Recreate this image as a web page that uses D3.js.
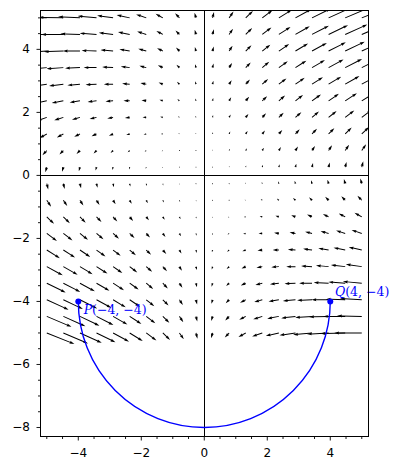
<!DOCTYPE html>
<html><head><meta charset="utf-8">
<script src="https://cdn.jsdelivr.net/npm/d3@7"></script>
<style>body{margin:0;background:#fff}svg{display:block}</style>
</head><body>
<svg id="c" width="402" height="470"></svg>
<script>
// ---- data ----
const gridX = [-5,-4.474,-3.947,-3.421,-2.895,-2.368,-1.842,-1.316,-0.789,-0.263,0.263,0.789,1.316,1.842,2.368,2.895,3.421,3.947,4.474,5];
const gridY = [-5,-4.474,-3.947,-3.421,-2.895,-2.368,-1.842,-1.316,-0.789,-0.263,0.263,0.789,1.316,1.842,2.368,2.895,3.421,3.947,4.474,5];
// fieldU[j][i], fieldV[j][i] : vector at (gridX[i], gridY[j])
const fieldU = [
[25,22.37,19.74,17.11,14.47,11.84,9.21,6.58,3.95,1.32,-1.32,-3.95,-6.58,-9.21,-11.84,-14.47,-17.11,-19.74,-22.37,-25],
[22.37,20.01,17.66,15.3,12.95,10.6,8.24,5.89,3.53,1.18,-1.18,-3.53,-5.89,-8.24,-10.6,-12.95,-15.3,-17.66,-20.01,-22.37],
[19.74,17.66,15.58,13.5,11.43,9.35,7.27,5.19,3.12,1.04,-1.04,-3.12,-5.19,-7.27,-9.35,-11.43,-13.5,-15.58,-17.66,-19.74],
[17.11,15.3,13.5,11.7,9.9,8.1,6.3,4.5,2.7,0.9,-0.9,-2.7,-4.5,-6.3,-8.1,-9.9,-11.7,-13.5,-15.3,-17.11],
[14.47,12.95,11.43,9.9,8.38,6.86,5.33,3.81,2.29,0.76,-0.76,-2.29,-3.81,-5.33,-6.86,-8.38,-9.9,-11.43,-12.95,-14.47],
[11.84,10.6,9.35,8.1,6.86,5.61,4.36,3.12,1.87,0.62,-0.62,-1.87,-3.12,-4.36,-5.61,-6.86,-8.1,-9.35,-10.6,-11.84],
[9.21,8.24,7.27,6.3,5.33,4.36,3.39,2.42,1.45,0.48,-0.48,-1.45,-2.42,-3.39,-4.36,-5.33,-6.3,-7.27,-8.24,-9.21],
[6.58,5.89,5.19,4.5,3.81,3.12,2.42,1.73,1.04,0.35,-0.35,-1.04,-1.73,-2.42,-3.12,-3.81,-4.5,-5.19,-5.89,-6.58],
[3.95,3.53,3.12,2.7,2.29,1.87,1.45,1.04,0.62,0.21,-0.21,-0.62,-1.04,-1.45,-1.87,-2.29,-2.7,-3.12,-3.53,-3.95],
[1.32,1.18,1.04,0.9,0.76,0.62,0.48,0.35,0.21,0.07,-0.07,-0.21,-0.35,-0.48,-0.62,-0.76,-0.9,-1.04,-1.18,-1.32],
[-1.32,-1.18,-1.04,-0.9,-0.76,-0.62,-0.48,-0.35,-0.21,-0.07,0.07,0.21,0.35,0.48,0.62,0.76,0.9,1.04,1.18,1.32],
[-3.95,-3.53,-3.12,-2.7,-2.29,-1.87,-1.45,-1.04,-0.62,-0.21,0.21,0.62,1.04,1.45,1.87,2.29,2.7,3.12,3.53,3.95],
[-6.58,-5.89,-5.19,-4.5,-3.81,-3.12,-2.42,-1.73,-1.04,-0.35,0.35,1.04,1.73,2.42,3.12,3.81,4.5,5.19,5.89,6.58],
[-9.21,-8.24,-7.27,-6.3,-5.33,-4.36,-3.39,-2.42,-1.45,-0.48,0.48,1.45,2.42,3.39,4.36,5.33,6.3,7.27,8.24,9.21],
[-11.84,-10.6,-9.35,-8.1,-6.86,-5.61,-4.36,-3.12,-1.87,-0.62,0.62,1.87,3.12,4.36,5.61,6.86,8.1,9.35,10.6,11.84],
[-14.47,-12.95,-11.43,-9.9,-8.38,-6.86,-5.33,-3.81,-2.29,-0.76,0.76,2.29,3.81,5.33,6.86,8.38,9.9,11.43,12.95,14.47],
[-17.11,-15.3,-13.5,-11.7,-9.9,-8.1,-6.3,-4.5,-2.7,-0.9,0.9,2.7,4.5,6.3,8.1,9.9,11.7,13.5,15.3,17.11],
[-19.74,-17.66,-15.58,-13.5,-11.43,-9.35,-7.27,-5.19,-3.12,-1.04,1.04,3.12,5.19,7.27,9.35,11.43,13.5,15.58,17.66,19.74],
[-22.37,-20.01,-17.66,-15.3,-12.95,-10.6,-8.24,-5.89,-3.53,-1.18,1.18,3.53,5.89,8.24,10.6,12.95,15.3,17.66,20.01,22.37],
[-25,-22.37,-19.74,-17.11,-14.47,-11.84,-9.21,-6.58,-3.95,-1.32,1.32,3.95,6.58,9.21,11.84,14.47,17.11,19.74,22.37,25]
];
const fieldV = [
[-10,-9.47,-8.95,-8.42,-7.89,-7.37,-6.84,-6.32,-5.79,-5.26,-4.74,-4.21,-3.68,-3.16,-2.63,-2.11,-1.58,-1.05,-0.53,0],
[-9.47,-8.95,-8.42,-7.89,-7.37,-6.84,-6.32,-5.79,-5.26,-4.74,-4.21,-3.68,-3.16,-2.63,-2.11,-1.58,-1.05,-0.53,0,0.53],
[-8.95,-8.42,-7.89,-7.37,-6.84,-6.32,-5.79,-5.26,-4.74,-4.21,-3.68,-3.16,-2.63,-2.11,-1.58,-1.05,-0.53,0,0.53,1.05],
[-8.42,-7.89,-7.37,-6.84,-6.32,-5.79,-5.26,-4.74,-4.21,-3.68,-3.16,-2.63,-2.11,-1.58,-1.05,-0.53,0,0.53,1.05,1.58],
[-7.89,-7.37,-6.84,-6.32,-5.79,-5.26,-4.74,-4.21,-3.68,-3.16,-2.63,-2.11,-1.58,-1.05,-0.53,0,0.53,1.05,1.58,2.11],
[-7.37,-6.84,-6.32,-5.79,-5.26,-4.74,-4.21,-3.68,-3.16,-2.63,-2.11,-1.58,-1.05,-0.53,0,0.53,1.05,1.58,2.11,2.63],
[-6.84,-6.32,-5.79,-5.26,-4.74,-4.21,-3.68,-3.16,-2.63,-2.11,-1.58,-1.05,-0.53,0,0.53,1.05,1.58,2.11,2.63,3.16],
[-6.32,-5.79,-5.26,-4.74,-4.21,-3.68,-3.16,-2.63,-2.11,-1.58,-1.05,-0.53,0,0.53,1.05,1.58,2.11,2.63,3.16,3.68],
[-5.79,-5.26,-4.74,-4.21,-3.68,-3.16,-2.63,-2.11,-1.58,-1.05,-0.53,0,0.53,1.05,1.58,2.11,2.63,3.16,3.68,4.21],
[-5.26,-4.74,-4.21,-3.68,-3.16,-2.63,-2.11,-1.58,-1.05,-0.53,0,0.53,1.05,1.58,2.11,2.63,3.16,3.68,4.21,4.74],
[-4.74,-4.21,-3.68,-3.16,-2.63,-2.11,-1.58,-1.05,-0.53,0,0.53,1.05,1.58,2.11,2.63,3.16,3.68,4.21,4.74,5.26],
[-4.21,-3.68,-3.16,-2.63,-2.11,-1.58,-1.05,-0.53,0,0.53,1.05,1.58,2.11,2.63,3.16,3.68,4.21,4.74,5.26,5.79],
[-3.68,-3.16,-2.63,-2.11,-1.58,-1.05,-0.53,0,0.53,1.05,1.58,2.11,2.63,3.16,3.68,4.21,4.74,5.26,5.79,6.32],
[-3.16,-2.63,-2.11,-1.58,-1.05,-0.53,0,0.53,1.05,1.58,2.11,2.63,3.16,3.68,4.21,4.74,5.26,5.79,6.32,6.84],
[-2.63,-2.11,-1.58,-1.05,-0.53,0,0.53,1.05,1.58,2.11,2.63,3.16,3.68,4.21,4.74,5.26,5.79,6.32,6.84,7.37],
[-2.11,-1.58,-1.05,-0.53,0,0.53,1.05,1.58,2.11,2.63,3.16,3.68,4.21,4.74,5.26,5.79,6.32,6.84,7.37,7.89],
[-1.58,-1.05,-0.53,0,0.53,1.05,1.58,2.11,2.63,3.16,3.68,4.21,4.74,5.26,5.79,6.32,6.84,7.37,7.89,8.42],
[-1.05,-0.53,0,0.53,1.05,1.58,2.11,2.63,3.16,3.68,4.21,4.74,5.26,5.79,6.32,6.84,7.37,7.89,8.42,8.95],
[-0.53,0,0.53,1.05,1.58,2.11,2.63,3.16,3.68,4.21,4.74,5.26,5.79,6.32,6.84,7.37,7.89,8.42,8.95,9.47],
[0,0.53,1.05,1.58,2.11,2.63,3.16,3.68,4.21,4.74,5.26,5.79,6.32,6.84,7.37,7.89,8.42,8.95,9.47,10]
];
const xTicks = [-4,-2,0,2,4];
const yTicks = [4,2,0,-2,-4,-6,-8];
const pathFrom = [-4,-4];
const pathTo = [4,-4];
const pathRadius = 4;
const pointNames = ["P","Q"];
const pointXs = [-4,4];
const pointYs = [-4,-4];
const pointTexts = ["(\u22124, \u22124)","(4, \u22124)"];

// ---- layout ----
const L = 40.3, R = 368.7, T = 10.3, B = 436;
const x = d3.scaleLinear().domain([-5.206, 5.22]).range([L, R]);
const y = d3.scaleLinear().domain([-8.27, 5.24]).range([B, T]);
const crisp = v => Math.round(v - 0.5) + 0.5;

const svg = d3.select("#c");
svg.append("defs").append("clipPath").attr("id","clip")
  .append("rect").attr("x",L).attr("y",T).attr("width",R-L).attr("height",B-T);
const plot = svg.append("g").attr("clip-path","url(#clip)");

// axes through origin
plot.append("line").attr("x1",crisp(x(0))).attr("x2",crisp(x(0))).attr("y1",T).attr("y2",B)
  .attr("stroke","#000").attr("stroke-width",1);
plot.append("line").attr("y1",crisp(y(0))).attr("y2",crisp(y(0))).attr("x1",L).attr("x2",R)
  .attr("stroke","#000").attr("stroke-width",1);

// quiver (matplotlib-like)
const axW = R - L;
const wpx = 0.06 / 20 * axW;
const arrows = [];
fieldU.forEach((row, j) => row.forEach((u, i) => arrows.push({x: gridX[i], y: gridY[j], u, v: fieldV[j][i]})));
const amean = d3.mean(arrows, d => Math.hypot(d.u, d.v));
const qscale = 1.8 * amean * Math.max(10, Math.sqrt(arrows.length));
const ii = [0,1,2,3,2,1,0,0];
function arrowPath(d) {
  const Lw = Math.hypot(d.u, d.v) / qscale * axW / wpx;
  let X, Y;
  if (Lw < 1) {
    X = []; Y = [];
    for (let k = 0; k < 8; k++) { X.push(Math.cos(k*Math.PI/3)*0.5); Y.push(Math.sin(k*Math.PI/3)*0.5); }
  } else {
    let xs, ys = [0.5,0.5,1.5,0];
    if (Lw < 5) { const s = Lw/5; xs = [0,0.5,0,5].map(v=>v*s); ys = ys.map(v=>v*s); }
    else xs = [0, Lw-4.5, Lw-5, Lw];
    X = ii.map(k => xs[k]); Y = ii.map(k => ys[k]);
    for (let k = 3; k < 7; k++) Y[k] *= -1;
  }
  const th = Math.atan2(d.v, d.u), c = Math.cos(th), s = Math.sin(th);
  const px = x(d.x), py = y(d.y);
  return "M" + X.map((xx, k) => {
    const a = (xx*c - Y[k]*s)*wpx, b = (xx*s + Y[k]*c)*wpx;
    return (px + a).toFixed(2) + "," + (py - b).toFixed(2);
  }).join("L") + "Z";
}
plot.append("g").selectAll("path").data(arrows).join("path")
  .attr("d", arrowPath).attr("fill","#000");

// semicircle path
const rpx = x(pathRadius) - x(0);
const rpy = y(0) - y(pathRadius);
plot.append("path")
  .attr("d", `M${x(pathFrom[0])},${y(pathFrom[1])} A${rpx},${rpy} 0 0 0 ${x(pathTo[0])},${y(pathTo[1])}`)
  .attr("fill","none").attr("stroke","#0000ff").attr("stroke-width",1.4);

// points
plot.append("g").selectAll("circle").data(pointXs).join("circle")
  .attr("cx", d => x(d)).attr("cy", (d,i) => y(pointYs[i])).attr("r",3).attr("fill","#0000ff");

// labels
const labOff = [[0.17,-0.41],[0.15,0.17]];
const labs = svg.append("g").attr("font-family","'DejaVu Serif',serif")
  .attr("font-size",12.5).attr("fill","#0000ff");
pointXs.forEach((px, i) => {
  const t = labs.append("text").attr("x", x(px + labOff[i][0])).attr("y", y(pointYs[i] + labOff[i][1]));
  t.append("tspan").attr("font-style","italic").text(pointNames[i]);
  t.append("tspan").text(pointTexts[i]);
});

// frame
svg.append("rect").attr("x",crisp(L)).attr("y",crisp(T)).attr("width",crisp(R)-crisp(L)).attr("height",crisp(B)-crisp(T))
  .attr("fill","none").attr("stroke","#000").attr("stroke-width",1);

// ticks
const g = svg.append("g").attr("stroke","#000").attr("stroke-width",0.9);
const fb = crisp(B), fl = crisp(L);
d3.range(-5, 5.01, 0.5).forEach(t => {
  const major = xTicks.includes(t);
  g.append("line").attr("x1",x(t)).attr("x2",x(t)).attr("y1",fb).attr("y2",fb + (major?4:2.5));
});
d3.range(-8, 5.01, 0.5).forEach(t => {
  const major = yTicks.includes(t);
  g.append("line").attr("y1",y(t)).attr("y2",y(t)).attr("x1",fl).attr("x2",fl - (major?4:2.5));
});
const fmt = d3.format("d");
const tl = svg.append("g").attr("font-family","'DejaVu Sans',sans-serif").attr("font-size",12).attr("fill","#000");
xTicks.forEach(t => tl.append("text").attr("x", x(t)).attr("y", 457).attr("text-anchor","middle").text(fmt(t)));
yTicks.forEach(t => tl.append("text").attr("x", 30).attr("y", y(t)).attr("text-anchor","end")
  .attr("dominant-baseline","central").text(fmt(t)));
</script>
</body></html>
